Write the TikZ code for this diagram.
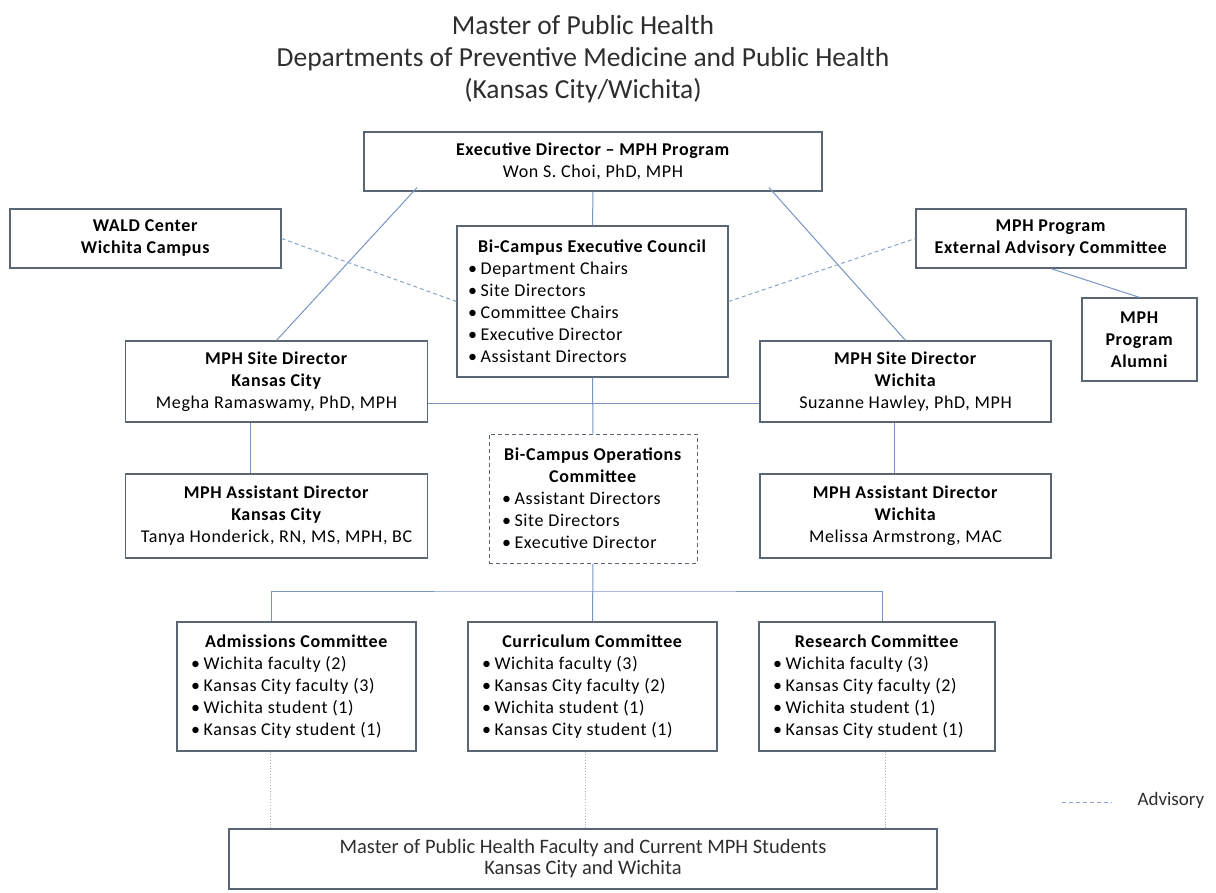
\documentclass[tikz,border=0pt]{standalone}
\usepackage{fontspec}
\setmainfont{Carlito}[LetterSpace=3.5]
\newfontfamily\plainface{Carlito}
\setlength{\parindent}{0pt}
\definecolor{boxline}{HTML}{5B6675}
\definecolor{linkblue}{HTML}{7895C2}
\definecolor{advblue}{HTML}{8BA3CB}
\definecolor{dotgray}{HTML}{B5B5B5}
\definecolor{softtext}{HTML}{2E2E2E}
\newcommand{\bodyfont}{\fontsize{18}{22}\selectfont}
\newcommand{\headfont}{\plainface\fontsize{27.5}{32}\selectfont}
\newlength{\listw}
\newcommand{\bi}[1]{\makebox[\listw][l]{\textbullet\hspace{0.2em}#1}}

\begin{document}
\begin{tikzpicture}[x=1pt,y=-1pt,
  box/.style={draw=boxline,line width=1.2pt,fill=white,inner sep=0pt,align=center,font=\bodyfont},
  listbox/.style={box,listw/.code={\setlength{\listw}{##1pt}},listw=#1},
  link/.style={draw=linkblue,line width=1pt},
  advisory/.style={draw=advblue,line width=1pt,dash pattern=on 4pt off 3pt},
  faint/.style={draw=dotgray,line width=0.8pt,dotted}]
\useasboundingbox (0,0) rectangle (1216,892);

\node[align=center,font=\headfont,text=softtext] (title) at (583,59)
  {Master of Public Health\\Departments of Preventive Medicine and Public Health\\(Kansas City/Wichita)};

\node[box,minimum width=458,minimum height=59] (exec) at (593,161.5)
  {\textbf{Executive Director – MPH Program}\\Won S. Choi, PhD, MPH};
\node[box,minimum width=271,minimum height=59] (wald) at (145.5,238.5)
  {\textbf{WALD Center}\\\textbf{Wichita Campus}};
\node[box,minimum width=270,minimum height=59] (ext) at (1051,238.5)
  {\textbf{MPH Program}\\\textbf{External Advisory Committee}};
\node[box,minimum width=115,minimum height=83] (alumni) at (1139.5,339.5)
  {\textbf{MPH}\\\textbf{Program}\\\textbf{Alumni}};
\node[listbox=249,minimum width=271,minimum height=151] (council) at (592.5,301.5)
  {\textbf{Bi-Campus Executive Council}\\\bi{Department Chairs}\\\bi{Site Directors}\\\bi{Committee Chairs}\\\bi{Executive Director}\\\bi{Assistant Directors}};

\node[box,minimum width=302,minimum height=81] (kcdir) at (276.5,381.5)
  {\textbf{MPH Site Director}\\\textbf{Kansas City}\\Megha Ramaswamy, PhD, MPH};
\node[box,minimum width=291,minimum height=81] (wdir) at (905.5,381.5)
  {\textbf{MPH Site Director}\\\textbf{Wichita}\\Suzanne Hawley, PhD, MPH};
\node[listbox=182,line width=1pt,dash pattern=on 4pt off 3pt,minimum width=208,minimum height=129] (ops) at (593,498.5)
  {\textbf{Bi-Campus Operations}\\\textbf{Committee}\\\bi{Assistant Directors}\\\bi{Site Directors}\\\bi{Executive Director}};
\node[box,minimum width=302,minimum height=84] (kcasst) at (276.5,516)
  {\textbf{MPH Assistant Director}\\\textbf{Kansas City}\\Tanya Honderick, RN, MS, MPH, BC};
\node[box,minimum width=291,minimum height=84] (wasst) at (905.5,516)
  {\textbf{MPH Assistant Director}\\\textbf{Wichita}\\Melissa Armstrong, MAC};

\node[listbox=211,minimum width=239,minimum height=129] (adm) at (296.5,686.5)
  {\textbf{Admissions Committee}\\\bi{Wichita faculty (2)}\\\bi{Kansas City faculty (3)}\\\bi{Wichita student (1)}\\\bi{Kansas City student (1)}};
\node[listbox=221,minimum width=249,minimum height=129] (cur) at (592.5,686.5)
  {\textbf{Curriculum Committee}\\\bi{Wichita faculty (3)}\\\bi{Kansas City faculty (2)}\\\bi{Wichita student (1)}\\\bi{Kansas City student (1)}};
\node[listbox=208,minimum width=236,minimum height=129] (res) at (877,686.5)
  {\textbf{Research Committee}\\\bi{Wichita faculty (3)}\\\bi{Kansas City faculty (2)}\\\bi{Wichita student (1)}\\\bi{Kansas City student (1)}};

\node[box,minimum width=708,minimum height=60,font=\plainface\fontsize{20.5}{21}\selectfont,text=softtext] (mph) at (583,859)
  {Master of Public Health Faculty and Current MPH Students\\Kansas City and Wichita};

\draw[link] (exec.south) -- (council.north);
\draw[link] ([shift={(-176,-4)}]exec.south) -- (kcdir.north);
\draw[link] ([shift={(176,-4)}]exec.south) -- (wdir.north);
\draw[advisory] (wald.east) -- (council.west);
\draw[advisory] (council.east) -- (ext.west);
\draw[link] (ext.south) -- (alumni.north);
\draw[link] ([yshift=-21.5]kcdir.east) -- ([yshift=-21.5]wdir.west);
\draw[link] (council.south) -- (ops.north);
\draw[link] ([xshift=-26]kcdir.south) -- ([xshift=-26]kcasst.north);
\draw[link] ([xshift=-11]wdir.south) -- ([xshift=-11]wasst.north);
\draw[link] (ops.south) -- (cur.north);
\coordinate (bus) at (593,591);
\draw[link] ([xshift=-25]adm.north) |- (bus) -| ([xshift=5]res.north);
\draw[faint] ([xshift=-26]adm.south) -- ([xshift=-26]adm.south |- mph.north);
\draw[faint] ([xshift=-7]cur.south) -- ([xshift=-7]cur.south |- mph.north);
\draw[faint] ([xshift=8]res.south) -- ([xshift=8]res.south |- mph.north);

\coordinate (advA) at (1062,802);
\coordinate (advB) at (1112,802);
\draw[advisory] (advA) -- (advB);
\node[anchor=west,font=\plainface\fontsize{19}{21}\selectfont,text=softtext] (advlabel) at (1134,800) {Advisory};
\end{tikzpicture}
\end{document}
